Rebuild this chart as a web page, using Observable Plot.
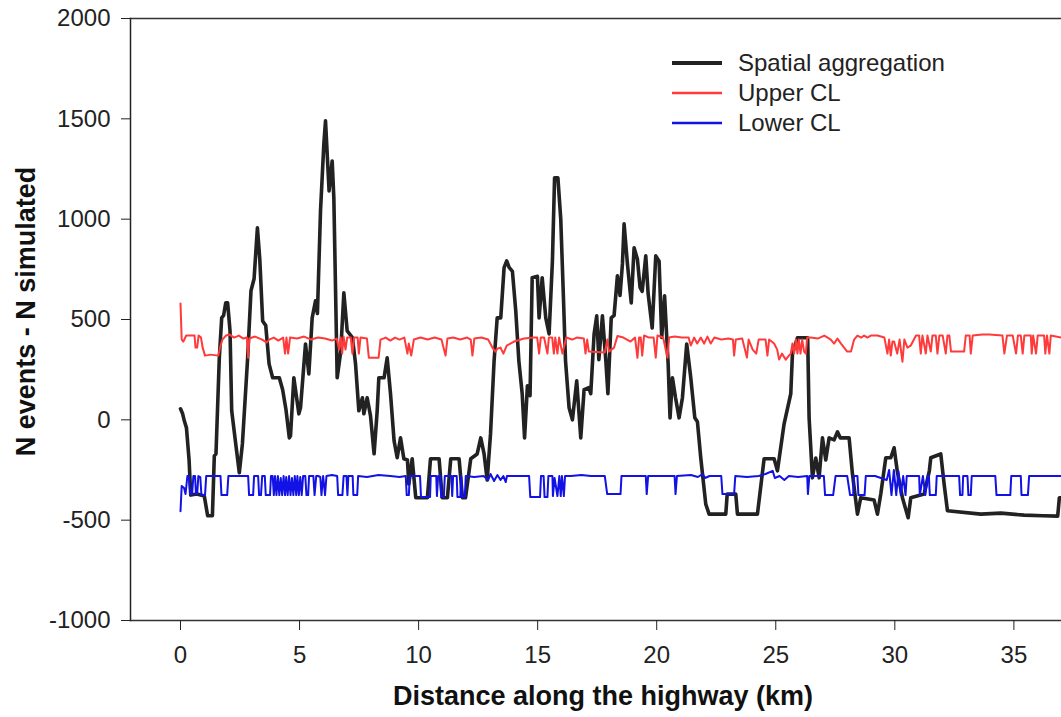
<!DOCTYPE html>
<html>
<head>
<meta charset="utf-8">
<script src="https://cdn.jsdelivr.net/npm/d3@7"></script>
<script src="https://cdn.jsdelivr.net/npm/@observablehq/plot@0.6"></script>
<style>
  html, body { margin: 0; padding: 0; background: #fff; }
  #wrap { position: relative; width: 1061px; height: 717px; }
  #legend { position: absolute; left: 672px; top: 48px; font-family: "Liberation Sans", Arial, sans-serif; font-size: 24px; color: #222; }
  #legend .row { display: flex; align-items: center; height: 30px; }
  #legend .sw { width: 50px; margin-right: 16px; }
</style>
</head>
<body>
<div id="wrap"><div id="legend"></div></div>
<script>
// Series: [distance km, N events - N simulated]
const aggregation = [
[0,55],[0.09,30],[0.16,-5],[0.25,-40],[0.36,-200],[0.43,-375],[0.69,-370],[1.0,-380],[1.14,-478],[1.34,-478],
[1.42,-180],[1.49,-170],[1.63,309],[1.73,508],[1.81,520],[1.9,583],[1.98,583],[2.08,443],[2.15,45],[2.32,-120],
[2.47,-264],[2.6,-120],[2.82,309],[2.96,643],[3.09,703],[3.23,957],[3.33,800],[3.45,493],[3.58,470],[3.72,279],
[3.87,210],[4.15,210],[4.29,150],[4.43,50],[4.57,-90],[4.62,-80],[4.76,210],[4.97,30],[5.04,60],[5.25,378],
[5.39,229],[5.53,508],[5.67,593],[5.75,530],[5.88,1041],[6.02,1375],[6.09,1490],[6.24,1141],[6.37,1290],[6.44,1106],
[6.58,210],[6.73,340],[6.86,633],[7.0,443],[7.22,410],[7.35,280],[7.49,45],[7.64,110],[7.7,30],[7.84,110],
[7.98,20],[8.13,-169],[8.26,45],[8.33,210],[8.55,210],[8.68,309],[8.82,130],[8.97,-105],[9.1,-189],[9.24,-90],
[9.38,-194],[9.53,-200],[9.59,-320],[9.73,-194],[9.88,-388],[10.37,-388],[10.5,-194],[10.86,-194],[10.99,-388],[11.21,-388],
[11.35,-194],[11.7,-194],[11.84,-388],[11.97,-388],[12.19,-194],[12.46,-170],[12.61,-90],[12.75,-170],[12.88,-300],[13.02,-70],
[13.17,294],[13.3,508],[13.45,508],[13.59,758],[13.7,792],[13.8,760],[13.94,740],[14.08,543],[14.21,294],[14.35,130],
[14.45,-90],[14.57,170],[14.68,120],[14.77,708],[14.99,715],[15.06,508],[15.19,708],[15.34,508],[15.48,428],[15.62,792],
[15.71,1206],[15.85,1206],[15.97,1000],[16.08,618],[16.17,294],[16.32,60],[16.46,0],[16.64,194],[16.81,-90],[16.95,150],
[17.15,160],[17.23,130],[17.37,428],[17.48,518],[17.57,300],[17.72,518],[17.86,300],[17.95,130],[18.09,508],[18.21,520],
[18.35,718],[18.46,620],[18.56,777],[18.63,977],[18.77,777],[18.93,583],[19.05,857],[19.19,800],[19.3,660],[19.39,640],
[19.54,817],[19.64,628],[19.81,458],[19.96,817],[20.1,790],[20.21,410],[20.33,618],[20.48,279],[20.56,10],[20.66,210],
[20.79,110],[20.94,10],[21.08,110],[21.26,378],[21.43,210],[21.6,10],[21.71,-10],[21.85,-190],[22.06,-420],[22.2,-470],
[22.9,-470],[22.96,-370],[23.32,-370],[23.39,-470],[24.23,-470],[24.51,-194],[24.93,-194],[25.07,-254],[25.35,-20],[25.63,130],
[25.7,329],[25.91,409],[26.34,409],[26.4,10],[26.54,-289],[26.68,-190],[26.82,-289],[26.96,-90],[27.1,-200],[27.24,-90],
[27.45,-100],[27.59,-60],[27.71,-90],[28.08,-90],[28.22,-269],[28.43,-470],[28.57,-388],[29.13,-400],[29.27,-470],[29.41,-370],
[29.62,-189],[29.83,-189],[29.97,-139],[30.1,-254],[30.32,-388],[30.56,-488],[30.67,-388],[31.23,-370],[31.45,-254],[31.51,-189],
[31.93,-170],[32.07,-320],[32.21,-453],[33.61,-470],[34.46,-465],[35.43,-475],[36.22,-478],[36.84,-480],[36.91,-388],[37.05,-388]
];

const upperCL = [
[0,580],[0.05,400],[0.12,390],[0.24,420],[0.59,420],[0.63,360],[0.7,360],[0.76,420],[0.86,410],[0.93,360],
[1.03,320],[1.27,325],[1.59,320],[1.66,360],[1.76,400],[1.91,420],[2.06,425],[2.25,410],[2.45,420],[2.64,405],
[2.79,410],[2.84,310],[2.89,405],[3.13,415],[3.43,400],[3.62,385],[3.72,400],[3.92,410],[4.11,395],[4.31,410],
[4.39,330],[4.45,410],[4.52,330],[4.6,410],[4.9,405],[5.19,415],[5.48,400],[5.78,410],[6.07,405],[6.36,395],
[6.56,405],[6.66,350],[6.73,410],[6.79,330],[6.85,415],[6.93,350],[7.0,410],[7.15,410],[7.22,330],[7.29,410],
[7.44,410],[7.49,330],[7.56,410],[7.83,405],[7.91,310],[8.32,310],[8.4,400],[8.62,410],[8.81,395],[9.01,410],
[9.2,400],[9.4,410],[9.53,330],[9.59,380],[9.69,320],[9.8,400],[10.08,410],[10.38,400],[10.67,410],[10.96,400],
[11.13,320],[11.21,405],[11.45,410],[11.75,400],[12.04,410],[12.19,400],[12.26,320],[12.34,405],[12.63,410],[12.92,400],
[13.1,360],[13.22,340],[13.31,355],[13.44,360],[13.56,330],[13.7,370],[14.01,390],[14.43,405],[14.84,410],[14.98,410],
[15.06,330],[15.13,410],[15.27,410],[15.41,330],[15.47,410],[15.61,410],[15.68,330],[15.74,410],[15.83,330],[15.9,410],
[16.04,330],[16.1,360],[16.2,410],[16.45,400],[16.64,410],[16.94,405],[17.01,330],[17.08,400],[17.15,340],[17.82,335],
[17.93,400],[17.99,340],[18.21,360],[18.35,418],[18.6,410],[18.9,390],[19.09,410],[19.19,309],[19.26,410],[19.33,410],
[19.39,320],[19.47,420],[19.68,410],[19.87,410],[19.96,310],[20.03,420],[20.27,410],[20.45,309],[20.52,410],[20.75,415],
[21.05,410],[21.34,410],[21.43,370],[21.57,410],[21.7,380],[21.85,410],[21.99,380],[22.13,415],[22.27,380],[22.42,410],
[22.71,400],[23.01,405],[23.2,400],[23.25,320],[23.32,400],[23.59,405],[23.79,310],[23.86,400],[24.03,350],[24.18,330],
[24.28,400],[24.57,400],[24.65,320],[24.72,400],[24.93,380],[25.06,350],[25.14,300],[25.26,330],[25.42,300],[25.55,320],
[25.63,330],[25.7,380],[25.77,330],[25.85,400],[25.91,330],[25.97,400],[26.04,330],[26.11,400],[26.19,340],[26.26,330],
[26.32,410],[26.47,410],[26.76,405],[27.04,420],[27.31,400],[27.45,380],[27.59,405],[27.74,380],[27.87,360],[28.0,340],
[28.16,340],[28.29,400],[28.43,420],[28.59,410],[28.71,420],[28.85,410],[28.99,420],[29.27,420],[29.56,410],[29.69,330],
[29.76,400],[29.83,320],[29.9,390],[29.97,390],[30.1,330],[30.2,400],[30.32,290],[30.4,400],[30.53,360],[30.67,370],
[30.89,420],[31.02,420],[31.09,330],[31.16,420],[31.3,330],[31.37,420],[31.51,340],[31.58,420],[31.72,420],[31.79,330],
[31.87,420],[32.01,420],[32.14,330],[32.21,420],[32.29,420],[32.36,340],[32.91,340],[32.98,420],[33.14,420],[33.19,330],
[33.27,420],[33.68,425],[33.97,425],[34.52,420],[34.6,330],[34.71,420],[34.95,420],[35.09,330],[35.17,420],[35.29,420],
[35.37,330],[35.44,420],[35.71,420],[35.75,330],[35.81,420],[35.93,330],[36.0,420],[36.27,420],[36.32,330],[36.39,420],
[36.49,330],[36.55,420],[37.0,410]
];

const lowerCL = [
[0,-455],[0.05,-330],[0.15,-340],[0.21,-370],[0.29,-280],[0.35,-279],[0.41,-370],[0.49,-370],[0.54,-280],[0.61,-280],
[0.65,-370],[0.7,-370],[0.75,-280],[0.83,-285],[0.88,-375],[1.03,-375],[1.08,-280],[1.68,-280],[1.72,-375],[1.96,-375],
[2.01,-280],[2.84,-280],[2.88,-375],[3.05,-375],[3.09,-280],[3.26,-280],[3.3,-375],[3.38,-375],[3.43,-280],[3.54,-280],
[3.58,-375],[3.76,-375],[3.8,-280],[3.87,-280],[3.92,-375],[3.97,-280],[4.03,-375],[4.09,-280],[4.15,-375],[4.21,-290],
[4.27,-375],[4.33,-280],[4.39,-375],[4.44,-285],[4.5,-375],[4.56,-280],[4.62,-375],[4.68,-290],[4.74,-375],[4.8,-280],
[4.86,-375],[4.91,-280],[4.97,-375],[5.03,-285],[5.09,-375],[5.15,-280],[5.24,-280],[5.29,-375],[5.36,-375],[5.4,-280],
[5.58,-280],[5.63,-375],[5.7,-280],[5.78,-280],[5.87,-285],[5.92,-375],[5.99,-280],[6.07,-375],[6.13,-280],[6.36,-275],
[6.58,-280],[6.62,-375],[6.8,-375],[6.85,-280],[6.97,-280],[7.01,-375],[7.05,-280],[7.23,-280],[7.26,-375],[7.42,-375],
[7.46,-280],[7.83,-285],[8.32,-275],[8.81,-280],[9.2,-285],[9.46,-280],[9.5,-375],[9.59,-375],[9.63,-280],[10.06,-280],
[10.1,-385],[10.48,-385],[10.51,-280],[10.74,-280],[10.77,-380],[10.82,-280],[10.91,-280],[10.95,-385],[11.06,-385],[11.1,-280],
[11.38,-280],[11.41,-380],[11.45,-280],[11.6,-280],[11.63,-385],[11.75,-385],[11.79,-280],[11.84,-385],[11.94,-385],[11.98,-280],
[12.34,-285],[12.73,-280],[12.92,-300],[13.02,-270],[13.17,-305],[13.31,-275],[13.44,-300],[13.56,-280],[13.66,-310],[13.71,-280],
[14.2,-280],[14.64,-280],[14.69,-385],[15.1,-385],[15.14,-280],[15.25,-280],[15.29,-385],[15.41,-385],[15.45,-280],[15.62,-280],
[15.64,-380],[15.71,-290],[15.83,-380],[15.91,-280],[15.97,-380],[16.02,-280],[16.1,-380],[16.15,-280],[16.39,-280],[16.84,-275],
[17.23,-280],[17.82,-280],[17.92,-370],[18.48,-370],[18.52,-280],[19.09,-280],[19.54,-280],[19.58,-370],[19.64,-280],[20.17,-280],
[20.75,-280],[20.79,-370],[20.85,-280],[21.44,-275],[21.73,-285],[21.93,-270],[22.03,-290],[22.22,-280],[22.71,-280],[22.76,-370],
[23.25,-370],[23.3,-280],[23.79,-285],[24.28,-280],[24.57,-270],[24.87,-254],[24.96,-290],[25.16,-280],[25.36,-300],[25.55,-280],
[25.94,-285],[26.32,-280],[26.35,-370],[26.41,-280],[27.02,-280],[27.07,-375],[27.41,-375],[27.51,-280],[28.0,-280],[28.12,-375],
[28.25,-375],[28.29,-280],[28.43,-280],[28.47,-375],[28.73,-375],[28.78,-280],[29.17,-280],[29.66,-300],[29.76,-250],[29.86,-375],
[29.96,-250],[30.06,-375],[30.15,-255],[30.25,-375],[30.35,-280],[30.45,-375],[30.5,-280],[30.84,-280],[31.02,-280],[31.05,-375],
[31.18,-280],[31.28,-375],[31.38,-280],[31.43,-280],[31.47,-375],[31.72,-375],[31.76,-280],[32.7,-280],[32.74,-375],[32.84,-375],
[32.87,-280],[33.05,-280],[33.09,-375],[33.19,-375],[33.23,-280],[34.22,-280],[34.27,-375],[34.85,-375],[34.89,-280],[35.29,-280],
[35.32,-375],[35.59,-375],[35.64,-280],[37.0,-280]
];

const xTicks = [0, 5, 10, 15, 20, 25, 30, 35];
const yTicks = [-1000, -500, 0, 500, 1000, 1500, 2000];
const seriesNames = ["Spatial aggregation", "Upper CL", "Lower CL"];
const seriesColors = ["#222222", "#ff3a3a", "#1212e6"];
const xTitle = "Distance along the highway (km)";
const yTitle = "N events - N simulated";

const chart = Plot.plot({
  width: 1061,
  height: 717,
  marginLeft: 130,
  marginRight: 0,
  marginTop: 18,
  marginBottom: 97,
  style: { fontFamily: "'Liberation Sans', Arial, sans-serif", fontSize: "24px", color: "#222", background: "#fff" },
  x: { domain: [-2.1, 37.0] },
  y: { domain: [-1000, 2000] },
  marks: [
    Plot.frame({ anchor: "left", stroke: "#222", strokeWidth: 1.5 }),
    Plot.frame({ anchor: "top", stroke: "#333", strokeWidth: 1.5 }),
    Plot.frame({ anchor: "bottom", stroke: "#333", strokeWidth: 1.5 }),
    Plot.axisX({ ticks: xTicks, tickSize: 10, tickPadding: 15, label: null, fontSize: 24, tickFormat: d => String(d) }),
    Plot.axisY({ ticks: yTicks, tickSize: 9, tickPadding: 11, label: null, fontSize: 24, tickFormat: d => String(d) }),
    Plot.line(aggregation, { x: d => d[0], y: d => d[1], stroke: seriesColors[0], strokeWidth: 3.6, strokeLinejoin: "round" }),
    Plot.line(upperCL, { x: d => d[0], y: d => d[1], stroke: seriesColors[1], strokeWidth: 2 }),
    Plot.line(lowerCL, { x: d => d[0], y: d => d[1], stroke: seriesColors[2], strokeWidth: 2 }),
    Plot.text([xTitle], { text: d => d, frameAnchor: "bottom", textAnchor: "middle", dy: 84, dx: 7, fontWeight: "bold", fontSize: 27, fill: "#111" }),
    Plot.text([yTitle], { text: d => d, frameAnchor: "left", textAnchor: "middle", rotate: -90, dx: -104, dy: -8, fontWeight: "bold", fontSize: 27, fill: "#111" })
  ]
});

const wrap = document.getElementById("wrap");
wrap.insertBefore(chart, wrap.firstChild);

const legend = document.getElementById("legend");
seriesNames.forEach((name, i) => {
  const row = document.createElement("div");
  row.className = "row";
  const sw = document.createElementNS("http://www.w3.org/2000/svg", "svg");
  sw.setAttribute("class", "sw");
  sw.setAttribute("width", "50");
  sw.setAttribute("height", "10");
  const ln = document.createElementNS("http://www.w3.org/2000/svg", "line");
  ln.setAttribute("x1", 0); ln.setAttribute("x2", 50);
  ln.setAttribute("y1", 5); ln.setAttribute("y2", 5);
  ln.setAttribute("stroke", seriesColors[i]);
  ln.setAttribute("stroke-width", i === 0 ? 4 : 2.5);
  sw.appendChild(ln);
  const t = document.createElement("span");
  t.textContent = name;
  row.appendChild(sw);
  row.appendChild(t);
  legend.appendChild(row);
});
</script>
</body>
</html>
